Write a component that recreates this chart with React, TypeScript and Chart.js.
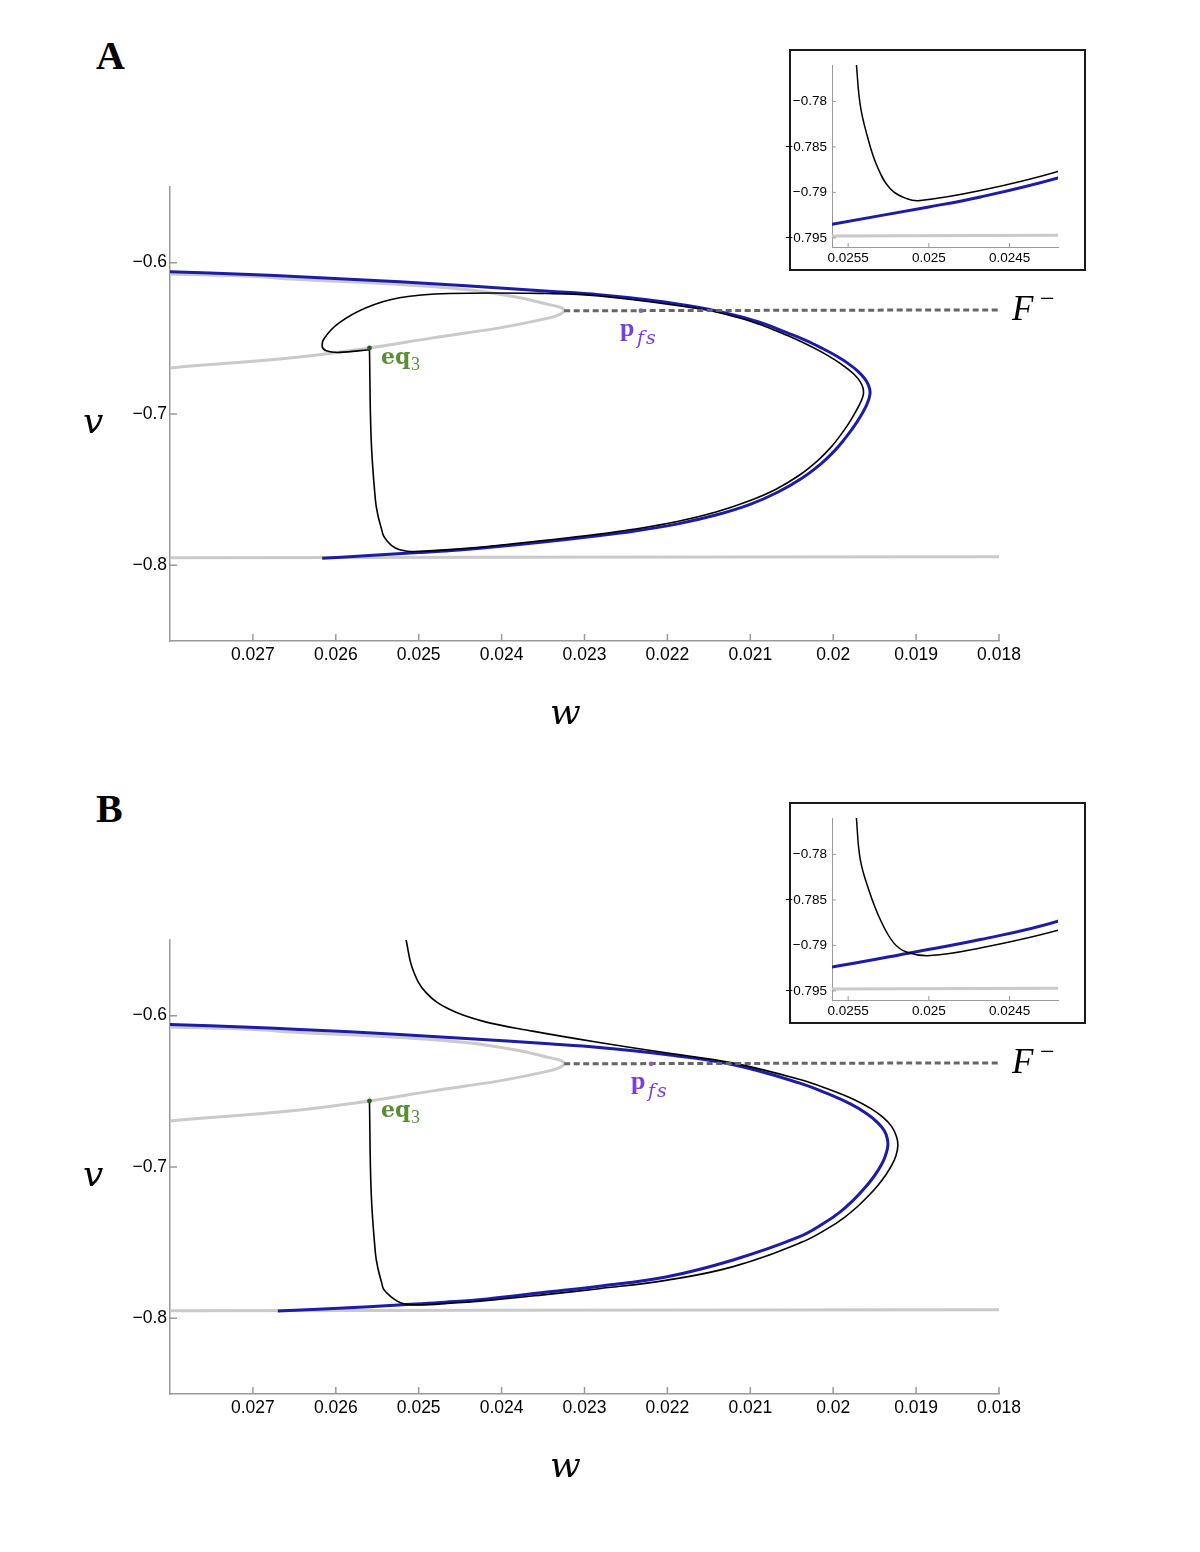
import React, { useEffect, useRef } from "react";
import { Chart, registerables } from "chart.js";

Chart.register(...registerables);

type P = [number, number];

// ---- tick values ----
const mainWTicks = [0.027, 0.026, 0.025, 0.024, 0.023, 0.022, 0.021, 0.02, 0.019, 0.018];
const mainVTicks = [-0.8, -0.7, -0.6];
const insetWTicks = [0.0255, 0.025, 0.0245];
const insetVTicks = [-0.795, -0.79, -0.785, -0.78];

// ---- critical manifold (grey), shared by both panels ----
const criticalMiddle: P[] = [
  [0.028, -0.6075], [0.027, -0.6092], [0.026437, -0.6111], [0.025233, -0.6144],
  [0.02443, -0.6177], [0.023827, -0.6227], [0.023425, -0.6277], [0.02329, -0.6296],
  [0.023245, -0.6316], [0.02329, -0.634], [0.023425, -0.6365], [0.024027, -0.6431],
  [0.024831, -0.6497], [0.025594, -0.6564], [0.026437, -0.6623], [0.028, -0.6696],
];
const criticalLower: P[] = [
  [0.028, -0.795], [0.0256, -0.7948], [0.0242, -0.7947], [0.018, -0.7943],
];
// ---- fold line F^- (dashed) ----
const foldLine: P[] = [[0.023245, -0.6318], [0.018, -0.6312]];

// ---- special points ----
const eq3: P = [0.025594, -0.6564];
const pfsA: P = [0.02232, -0.6317];
const pfsB: P = [0.022196, -0.6318];

// ---- panel A ----
const slowManifoldA: P[] = [
  [0.028, -0.606], [0.02704, -0.6078], [0.026437, -0.6093], [0.025233, -0.6126],
  [0.02443, -0.6153], [0.02343, -0.6189], [0.022823, -0.6212], [0.022221, -0.6247],
  [0.021618, -0.6296], [0.021116, -0.6357], [0.020829, -0.6405], [0.020547, -0.6465],
  [0.020325, -0.6515], [0.020129, -0.6567], [0.01996, -0.6617], [0.019818, -0.6667],
  [0.019704, -0.6716], [0.019622, -0.6765], [0.019574, -0.6811], [0.019555, -0.6856],
  [0.01957, -0.6902], [0.019606, -0.6951], [0.01967, -0.7015], [0.019755, -0.7087],
  [0.019864, -0.7166], [0.01999, -0.7247], [0.020148, -0.7329], [0.020378, -0.7424],
  [0.020671, -0.7517], [0.021002, -0.7597], [0.021405, -0.7666], [0.021875, -0.7726],
  [0.02241, -0.7775], [0.022888, -0.7808], [0.0235, -0.7846], [0.0242, -0.7884],
  [0.024681, -0.7905], [0.025, -0.7916], [0.0256, -0.7935], [0.026164, -0.7954],
];
const trajectoryA: P[] = [
  [0.025594, -0.6564], [0.025573, -0.7172], [0.025522, -0.757], [0.025492, -0.7669],
  [0.025449, -0.7759], [0.025425, -0.7804], [0.025383, -0.7837], [0.025321, -0.7871],
  [0.025239, -0.7896], [0.025135, -0.7907], [0.025053, -0.7909], [0.024681, -0.7898],
  [0.0242, -0.7877], [0.0235, -0.7836], [0.02289, -0.7798], [0.022413, -0.7762],
  [0.021881, -0.771], [0.021414, -0.7647], [0.021017, -0.7575], [0.02069, -0.7497],
  [0.020405, -0.7403], [0.020183, -0.7306], [0.020034, -0.7224], [0.019916, -0.7143],
  [0.019814, -0.7064], [0.019737, -0.6993], [0.019677, -0.6932], [0.019645, -0.689],
  [0.019634, -0.686], [0.019641, -0.6826], [0.019675, -0.6786], [0.019743, -0.6741],
  [0.019849, -0.6692], [0.019984, -0.6641], [0.020148, -0.6588], [0.02034, -0.6534],
  [0.020558, -0.648], [0.020836, -0.6418], [0.02112, -0.6367], [0.021618, -0.6305],
  [0.022823, -0.622], [0.02343, -0.6204], [0.024635, -0.6204], [0.025233, -0.6232],
  [0.025634, -0.6298], [0.02596, -0.6398], [0.026136, -0.6497], [0.026164, -0.6553],
  [0.026116, -0.6582], [0.02596, -0.6593], [0.025598, -0.6575],
];

// ---- panel B ----
const slowManifoldB: P[] = [
  [0.028, -0.6058], [0.02704, -0.6076], [0.026437, -0.6091], [0.025233, -0.6124],
  [0.02443, -0.6151], [0.02343, -0.6186], [0.022823, -0.621], [0.022019, -0.6257],
  [0.021217, -0.6323], [0.020413, -0.6444], [0.020052, -0.6519], [0.019787, -0.6585],
  [0.019594, -0.6648], [0.019461, -0.6708], [0.019383, -0.6761], [0.019347, -0.6814],
  [0.019341, -0.686], [0.019359, -0.6906], [0.019395, -0.696], [0.019455, -0.7019],
  [0.01954, -0.7086], [0.019642, -0.7152], [0.019769, -0.7225], [0.019919, -0.7298],
  [0.0201, -0.7367], [0.020413, -0.7462], [0.021217, -0.7616], [0.022019, -0.7727],
  [0.022823, -0.7788], [0.0235, -0.783], [0.0242, -0.78733], [0.024681, -0.78936],
  [0.025094, -0.79075], [0.0256, -0.79237], [0.026699, -0.7952],
];
const trajectoryB: P[] = [
  [0.025152, -0.55], [0.025072, -0.5693], [0.024911, -0.5848], [0.02463, -0.5958],
  [0.024229, -0.6036], [0.023627, -0.6102], [0.022823, -0.6177], [0.022019, -0.6245],
  [0.021217, -0.6312], [0.020401, -0.6422], [0.020031, -0.6491], [0.019757, -0.6552],
  [0.019549, -0.6613], [0.019398, -0.6672], [0.019294, -0.6733], [0.019235, -0.6801],
  [0.01922, -0.686], [0.019243, -0.6925], [0.019292, -0.6986], [0.019364, -0.7051],
  [0.019459, -0.712], [0.019571, -0.7188], [0.019706, -0.7261], [0.019867, -0.7334],
  [0.020059, -0.7404], [0.020383, -0.7498], [0.021217, -0.766], [0.022019, -0.7749],
  [0.022823, -0.7804], [0.0235, -0.7845], [0.0242, -0.78833], [0.024681, -0.79028],
  [0.024991, -0.79112], [0.025135, -0.79075], [0.025218, -0.78972], [0.025301, -0.78716],
  [0.025373, -0.78385], [0.025425, -0.78055], [0.025449, -0.77596], [0.025492, -0.7669],
  [0.025522, -0.757], [0.025573, -0.7172], [0.025594, -0.6564],
];

// ---- helpers ----
const toXY = (pts: P[]) => pts.map(([x, y]) => ({ x, y }));
const fmt = (v: number) =>
  (v < 0 ? "\u2212" : "") + parseFloat(Math.abs(v).toFixed(4)).toString();

const BLUE = "#1c1ca6";
const GREY = "#cacaca";
const AXIS = "#9a9a9a";

const inwardTicks = {
  id: "inwardTicks",
  afterDatasetsDraw(chart: any, _args: any, opts: any) {
    const { ctx, chartArea: a, scales } = chart;
    ctx.save();
    ctx.strokeStyle = opts.color;
    ctx.lineWidth = opts.width;
    ctx.beginPath();
    for (const t of scales.x.ticks) {
      const p = scales.x.getPixelForValue(t.value);
      ctx.moveTo(p, a.bottom);
      ctx.lineTo(p, a.bottom - opts.len);
    }
    for (const t of scales.y.ticks) {
      const p = scales.y.getPixelForValue(t.value);
      ctx.moveTo(a.left, p);
      ctx.lineTo(a.left + opts.len, p);
    }
    ctx.stroke();
    ctx.restore();
  },
};

const line = (data: P[], color: string, width: number, order: number, extra: any = {}) => ({
  data: toXY(data),
  showLine: true,
  borderColor: color,
  backgroundColor: color,
  borderWidth: width,
  pointRadius: 0,
  pointHoverRadius: 0,
  tension: 0.4,
  fill: false,
  order,
  ...extra,
});

const axisCommon = (ticksArr: number[], fontSize: number, pad: number) => ({
  type: "linear",
  afterBuildTicks: (s: any) => {
    s.ticks = ticksArr.map((value) => ({ value }));
  },
  grid: { display: false, drawTicks: false },
  border: { display: true, color: AXIS, width: 1.5 },
  ticks: {
    callback: (v: any) => fmt(Number(v)),
    color: "#000",
    font: { family: "'Liberation Sans', Arial, sans-serif", size: fontSize },
    padding: pad,
    maxRotation: 0,
    autoSkip: false,
  },
});

function mainConfig(blue: P[], black: P[], pfs: P): any {
  return {
    type: "scatter",
    data: {
      datasets: [
        { data: toXY([eq3]), pointRadius: 2.4, backgroundColor: "#2f5a1e", borderWidth: 0, order: 0 },
        { data: toXY([pfs]), pointRadius: 2.4, backgroundColor: "#8a63b8", borderWidth: 0, order: 0 },
        line(foldLine, "#666666", 3, 1, { borderDash: [6, 3.5], tension: 0 }),
        line(black, "#000000", 1.6, 2),
        line(blue, BLUE, 3, 3),
        line(criticalMiddle, GREY, 3, 4),
        line(criticalLower, GREY, 3, 4, { tension: 0 }),
      ],
    },
    options: {
      responsive: false,
      animation: false,
      events: [],
      layout: { padding: { top: 17, right: 41, left: 0, bottom: 0 } },
      plugins: {
        legend: { display: false },
        tooltip: { enabled: false },
        inwardTicks: { len: 7, color: AXIS, width: 1.5 },
      },
      scales: {
        x: {
          ...axisCommon(mainWTicks, 17.5, 4),
          reverse: true,
          min: 0.018,
          max: 0.028,
          afterFit: (s: any) => {
            s.height = 69;
          },
        },
        y: {
          ...axisCommon(mainVTicks, 17.5, 3),
          min: -0.85,
          max: -0.55,
          afterFit: (s: any) => {
            s.width = 70;
          },
        },
      },
    },
    plugins: [inwardTicks],
  };
}

function insetConfig(blue: P[], black: P[]): any {
  return {
    type: "scatter",
    data: {
      datasets: [
        line(black, "#000000", 1.5, 2),
        line(blue, BLUE, 3, 3),
        line(criticalLower, GREY, 3, 4, { tension: 0 }),
      ],
    },
    options: {
      responsive: false,
      animation: false,
      events: [],
      layout: { padding: { top: 14, right: 26, left: 0, bottom: 0 } },
      plugins: {
        legend: { display: false },
        tooltip: { enabled: false },
        inwardTicks: { len: 4, color: AXIS, width: 1 },
      },
      scales: {
        x: {
          ...axisCommon(insetWTicks, 13.5, 3),
          border: { display: true, color: AXIS, width: 1 },
          reverse: true,
          min: 0.0242,
          max: 0.0256,
          afterFit: (s: any) => {
            s.height = 22;
          },
        },
        y: {
          ...axisCommon(insetVTicks, 13.5, 5),
          border: { display: true, color: AXIS, width: 1 },
          min: -0.796,
          max: -0.776,
          afterFit: (s: any) => {
            s.width = 51;
          },
        },
      },
    },
    plugins: [inwardTicks],
  };
}

function ChartCanvas(props: { make: () => any; left: number; top: number; width: number; height: number }) {
  const ref = useRef<HTMLCanvasElement>(null);
  useEffect(() => {
    const ch = new Chart(ref.current as HTMLCanvasElement, props.make());
    return () => ch.destroy();
  }, []);
  return (
    <canvas
      ref={ref}
      width={props.width}
      height={props.height}
      style={{ position: "absolute", left: props.left, top: props.top, width: props.width, height: props.height }}
    />
  );
}

const SERIF = "'Liberation Serif', 'Times New Roman', serif";
const DJ = "'DejaVu Serif', serif";

function T(props: { left: number; top: number; size: number; children: any; style?: any }) {
  return (
    <span
      style={{
        position: "absolute",
        left: props.left,
        top: props.top,
        fontSize: props.size,
        lineHeight: 1,
        fontFamily: SERIF,
        whiteSpace: "nowrap",
        color: "#000",
        ...(props.style || {}),
      }}
    >
      {props.children}
    </span>
  );
}

function Panel(props: { dy: number; letter: string; blue: P[]; black: P[]; pfs: P; pfsDx: number }) {
  const { dy, pfsDx } = props;
  const purple = "#7a3de0";
  const green = "#5b8c3a";
  return (
    <>
      <T left={96} top={36 + dy} size={40} style={{ fontWeight: "bold" }}>{props.letter}</T>
      <ChartCanvas make={() => mainConfig(props.blue, props.black, props.pfs)} left={100} top={170 + dy} width={940} height={540} />
      <div
        style={{
          position: "absolute",
          left: 789,
          top: 49 + dy,
          width: 297,
          height: 222,
          border: "2px solid #1a1a1a",
          boxSizing: "border-box",
          background: "#fff",
        }}
      />
      <ChartCanvas make={() => insetConfig(props.blue, props.black)} left={781} top={51 + dy} width={303} height={218} />
      {/* axis titles */}
      <T left={83} top={402.5 + dy} size={36} style={{ fontStyle: "italic", fontFamily: DJ }}>v</T>
      <T left={550} top={693.5 + dy} size={36} style={{ fontStyle: "italic", fontFamily: DJ }}>w</T>
      {/* F^- */}
      <T left={1012} top={290.7 + dy} size={35} style={{ fontStyle: "italic" }}>F</T>
      <T left={1040} top={286 + dy} size={26}>{"\u2212"}</T>
      {/* p_fs */}
      <T left={620 + pfsDx} top={315 + dy} size={26} style={{ fontWeight: "bold", color: purple }}>p</T>
      <T left={637 + pfsDx} top={327.5 + dy} size={19} style={{ fontStyle: "italic", color: purple, letterSpacing: 2, fontFamily: DJ }}>fs</T>
      {/* eq_3 */}
      <T left={381} top={345.4 + dy} size={22} style={{ fontWeight: "bold", color: green, fontFamily: DJ }}>eq</T>
      <T left={411} top={355 + dy} size={18} style={{ color: green }}>3</T>
    </>
  );
}

export default function App() {
  return (
    <div style={{ position: "absolute", left: 0, top: 0, width: 1200, height: 1552, background: "#fff", overflow: "hidden" }}>
      <Panel dy={0} letter="A" blue={slowManifoldA} black={trajectoryA} pfs={pfsA} pfsDx={0} />
      <Panel dy={753} letter="B" blue={slowManifoldB} black={trajectoryB} pfs={pfsB} pfsDx={11} />
    </div>
  );
}
